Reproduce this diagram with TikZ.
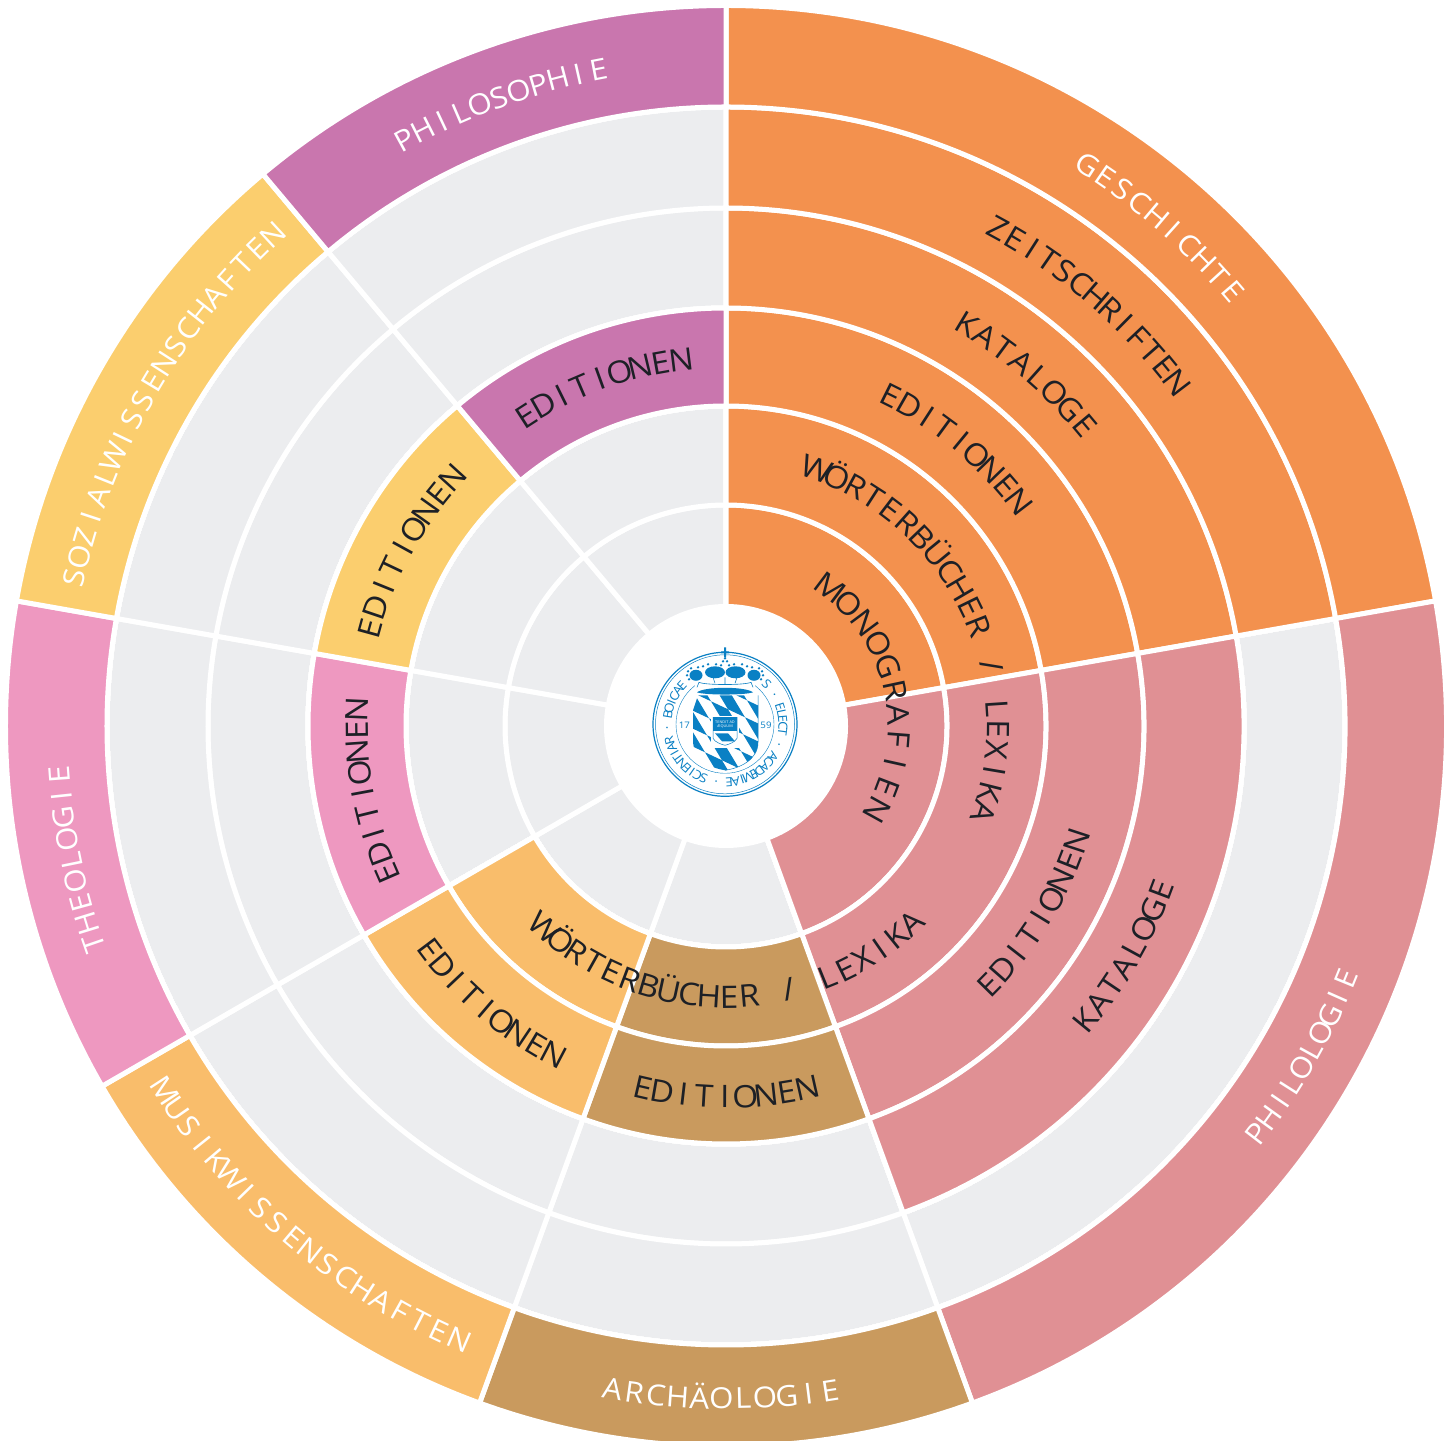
\documentclass[tikz,border=0pt]{standalone}
\usepackage{fontspec}
\setmainfont[FakeStretch=1.08]{Open Sans}
\definecolor{cgray}{HTML}{ECEDEF}
\definecolor{corange}{HTML}{F3914E}
\definecolor{crose}{HTML}{E09094}
\definecolor{cbrown}{HTML}{C99A5E}
\definecolor{cmusik}{HTML}{F9BD6B}
\definecolor{cpink}{HTML}{EE98C0}
\definecolor{csozial}{HTML}{FBCE6E}
\definecolor{cphilo}{HTML}{C976AE}
\definecolor{cink}{HTML}{1D2026}
\definecolor{sealblue}{HTML}{0A80C4}
\tikzset{cell/.style={draw=white, line width=5pt, line join=miter},
  letter/.style={inner sep=0pt, outer sep=0pt, anchor=base}}
\newcommand{\inkfont}{\fontsize{31}{31}\selectfont\color{cink}}
\newcommand{\paperfont}{\fontsize{29}{29}\selectfont\color{white}}
\newcommand{\sealfont}{\fontsize{12.5}{12.5}\selectfont\color{sealblue}}
\newcommand{\ringcell}[5]{\draw[cell, fill=#5] (#1:#3pt) arc[start angle=#1, end angle=#2, radius=#3pt]
  -- (#2:#4pt) arc[start angle=#2, end angle=#1, radius=#4pt] -- cycle;}
\newlength\lblw
\newlength\lblsum
\newcount\lblnum
\def\lblI{I}
\makeatletter
% width of a letter, the I taken tighter
\newcommand{\lblmeasure}[1]{\settowidth\lblw{#1\ch}\ifx\ch\lblI\lblw=0.4\lblw\fi}
% letters spread evenly on an arc from angle #1 to angle #2
\newcommand{\arclabel}[5]{\begingroup
  \lblsum=0pt \lblnum=0
  \@tfor\ch:=#5\do{\lblmeasure{#4}\advance\lblsum by \lblw \advance\lblnum by 1 }
  \pgfmathsetmacro\lblsign{(#2>#1)?1:-1}
  \pgfmathsetmacro\lblgap{(abs(#2-#1)*pi/180*#3-\the\lblsum)/(\the\lblnum-1)}
  \def\lblpos{0}
  \@tfor\ch:=#5\do{\lblmeasure{#4}
    \pgfmathsetmacro\lblang{#1+\lblsign*(\lblpos+\the\lblw/2)/#3*180/pi}
    \pgfmathsetmacro\lblrot{\lblang+\lblsign*90}
    \node[letter, rotate=\lblrot] at (\lblang:#3pt) {#4\ch};
    \pgfmathsetmacro\lblpos{\lblpos+\the\lblw+\lblgap}}
  \endgroup}
\makeatother
\begin{document}
\begin{tikzpicture}
  \useasboundingbox (0,0) rectangle (1445pt,1440pt);
  \begin{scope}[shift={(726pt,714pt)}]
  % grey cells in all sectors
  \foreach \a/\b in {10/90,-70/10,-110/-70,-150/-110,-190/-150,130/170,90/130}
    \foreach \ri/\ro in {119.5/221,221/320,320/418,418/518,518/619,619/720.5}
      \ringcell{\a}{\b}{\ri}{\ro}{cgray}
  % coloured cells
  \foreach \a/\b/\col/\cells in {
    10/90/corange/{119.5/221,221/320,320/418,418/518,518/619,619/720.5},
    -70/10/crose/{119.5/221,221/320,320/418,418/518,619/720.5},
    -110/-70/cbrown/{221/320,320/418,619/720.5},
    -150/-110/cmusik/{221/320,320/418,619/720.5},
    -190/-150/cpink/{320/418,619/720.5},
    130/170/csozial/{320/418,619/720.5},
    90/130/cphilo/{320/418,619/720.5}}
    \foreach \ri/\ro in \cells
      \ringcell{\a}{\b}{\ri}{\ro}{\col}
  % white middle
  \path[fill=white] (0,0) circle (119.5pt);
  % labels reading clockwise
  \arclabel{57.2}{40.6}{657}{\paperfont}{GESCHICHTE}
  \arclabel{61.3}{37.3}{556}{\inkfont}{ZEITSCHRIFTEN}
  \arclabel{59}{40}{457}{\inkfont}{KATALOGE}
  \arclabel{63.5}{37.5}{358}{\inkfont}{EDITIONEN}
  \arclabel{70.5}{-18.5}{261}{\inkfont}{WÖRTERBÜCHER~/~LEXIKA}
  \arclabel{53}{-29}{162}{\inkfont}{MONOGRAFIEN}
  \arclabel{203.5}{177.5}{358}{\inkfont}{EDITIONEN}
  \arclabel{164.7}{137.7}{358}{\inkfont}{EDITIONEN}
  \arclabel{122.8}{97}{358}{\inkfont}{EDITIONEN}
  \arclabel{167.2}{132.7}{658}{\paperfont}{SOZIALWISSENSCHAFTEN}
  \arclabel{118.7}{101}{658}{\paperfont}{PHILOSOPHIE}
  \arclabel{199}{184.2}{658}{\paperfont}{THEOLOGIE}
  % labels reading counter-clockwise
  \arclabel{-44.6}{-18.2}{380}{\inkfont}{EDITIONEN}
  \arclabel{-39.3}{-20.6}{476}{\inkfont}{KATALOGE}
  \arclabel{-37.5}{-22.2}{680}{\paperfont}{PHILOLOGIE}
  \arclabel{228}{313.3}{282}{\inkfont}{WÖRTERBÜCHER~/~LEXIKA}
  \arclabel{257}{282.6}{382}{\inkfont}{EDITIONEN}
  \arclabel{217}{242.3}{382}{\inkfont}{EDITIONEN}
  \arclabel{213}{246.5}{680}{\paperfont}{MUSIKWISSENSCHAFTEN}
  \arclabel{260.3}{278.9}{683}{\paperfont}{ARCHÄOLOGIE}
  \end{scope}
  % seal
  \begin{scope}[shift={(725pt,715.7pt)}, x=1pt, y=1pt]
  \draw[sealblue, line width=1.2pt] (0,0) circle (72pt);
  \draw[sealblue, line width=0.5pt] (0,0) circle (69.5pt);
  \draw[sealblue, line width=0.4pt] (0,0) circle (49pt);
  \arclabel{44}{-222}{53.5}{\sealfont}{S~·~ELECT~·~ACADEMIAE~·~SCIENTIAR~·~BOICAE}
  \node (seal17) at (-40.7,-1) {\fontsize{9}{9}\selectfont\color{sealblue}17};
  \node (seal59) at (41,-1) {\fontsize{9}{9}\selectfont\color{sealblue}59};
  % cross and crown
  \fill[sealblue] (-1,67) rectangle (1,77) (-4,71) rectangle (4,73);
  \fill[white] (-30,28) rectangle (30,60);
  \foreach \x/\y/\w/\h in {-10/52/10/6,10.5/52/10/6,-29/49/6.5/5.5,29/49/6.5/5.5}
    \fill[sealblue] (\x,\y) ellipse (\w pt and \h pt);
  \foreach \x/\y in {-38/49,-37/53,-34/56,-27/57,-22/58,-17/60,-9/60,-4/59,4/59,9/60,17/60,22/58,27/57,34/56,37/53,38/49,-36/45,36/45,-2/63,2/63,0/66}
    \fill[sealblue] (\x,\y) circle (1.3pt);
  \draw[sealblue, line width=0.6pt] (-26,42) .. controls (-20,39) and (20,39) .. (26,42);
  \draw[sealblue, line width=0.6pt] (-26,42) -- (-28,37) (26,42) -- (28,37) (-10,41) -- (-12,47) (10,41) -- (12,47) (0,40) -- (0,47);
  \fill[sealblue] (-28,32) .. controls (-20,38) and (20,38) .. (28,32) .. controls (20,29) and (-20,29) .. (-28,32) -- cycle;
  % shield
  \begin{scope}
    \clip (-27,29) -- (-32,14) -- (-32,-18) .. controls (-30,-38) and (-12,-44) .. (0,-46)
      .. controls (14,-44) and (33,-36) .. (33,-18) -- (33,29) -- cycle;
    \fill[white] (-40,-50) rectangle (40,40);
    \foreach \i in {-4,...,4}
      \foreach \j in {-4,...,4} {
        \pgfmathtruncatemacro\lozpar{mod(\i+\j+8,2)}
        \ifnum\lozpar=0
          \fill[sealblue, shift={({\i*15+\j*17-16},{\i*(-25)+\j*(-8)+6})}] (0,0) -- (15,-25) -- (32,-33) -- (17,-8) -- cycle;
        \fi}
  \end{scope}
  \draw[sealblue, line width=0.5pt] (33,29) -- (33,-18) .. controls (33,-36) and (14,-44) .. (0,-46);
  % small shield
  \fill[white] (-14,8) rectangle (14,-24);
  \draw[sealblue, line width=0.5pt, fill=white] (-12,7) -- (12,7) -- (12,-14) .. controls (10,-18) and (4,-20) .. (0,-21) .. controls (-4,-20) and (-10,-18) .. (-12,-14) -- cycle;
  \fill[sealblue] (-12,7) rectangle (12,-7);
  \fill[sealblue] (-10,-9) -- (3,-9) -- (10,-17) -- (-3,-17) -- cycle;
  \node[align=center, inner sep=0pt, text=white, font=\fontsize{3.6}{4.2}\selectfont] (sealmotto) at (0,0) {TENDIT AD\\ÆQUUM};
  \end{scope}
\end{tikzpicture}
\end{document}
